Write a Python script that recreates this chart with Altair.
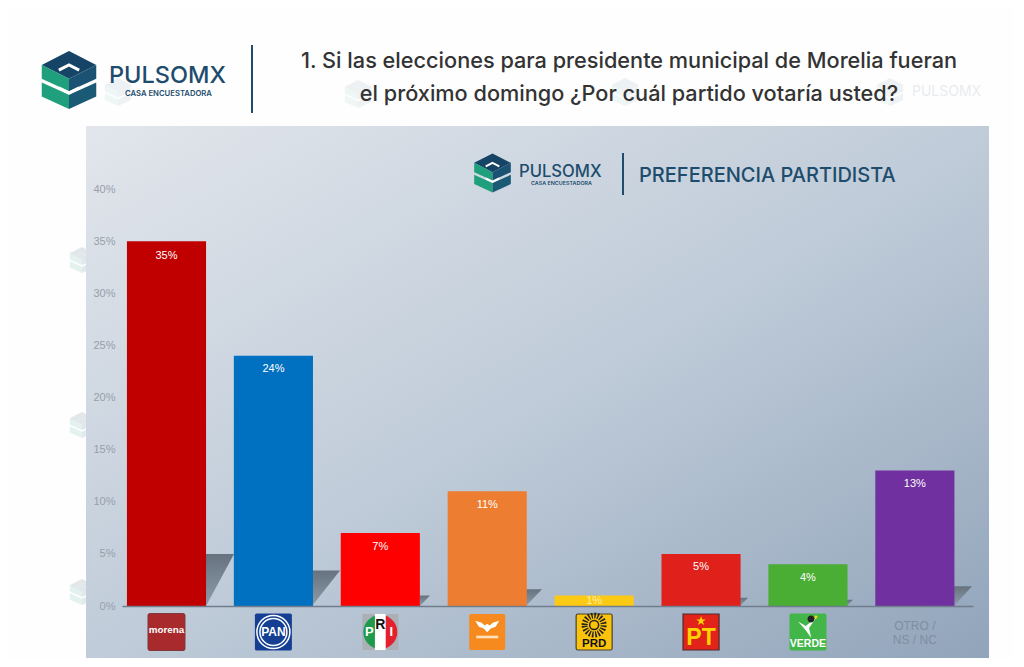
import altair as alt
import pandas as pd

parties = ["morena", "PAN", "PRI", "MC", "PRD", "PT", "VERDE", "OTRO"]
values = [35, 24, 7, 11, 1, 5, 4, 13]
label_pos = [33.6, 22.7, 5.7, 9.7, 0.45, 3.7, 2.7, 11.7]
colors = ["#c00000", "#0070c0", "#ff0000", "#ed7d31", "#fcc914", "#e0201b", "#4aad34", "#7030a0"]
label_colors = ["#ffffff"] * 4 + ["#fdf0a8"] + ["#ffffff"] * 3
y_ticks = [0, 5, 10, 15, 20, 25, 30, 35, 40]

shadow_party = ["morena", "PAN", "PRI", "MC", "PT", "VERDE", "OTRO"]
shadow_start = [206, 312, 420, 526, 740, 847, 954]
shadow_end = [234, 340, 430, 542, 748, 853, 972]
shadow_top = [5.0, 3.4, 1.0, 1.6, 0.8, 0.6, 1.9]

title_lines = ["1. Si las elecciones para presidente municipal de Morelia fueran",
               "el próximo domingo ¿Por cuál partido votaría usted?"]
brand = "PULSOMX"
brand_sub = "CASA ENCUESTADORA"
panel_title = "PREFERENCIA PARTIDISTA"
other_lines = ["OTRO /", "NS / NC"]

PLOT_X, PLOT_Y = 122, 189
NAVY = "#1d4c6c"
ONE = pd.DataFrame({"a": [0]})
px = lambda v: alt.value(v - PLOT_X)
py = lambda v: alt.value(v - PLOT_Y)

xscale = alt.Scale(type="band", domain=parties, paddingInner=0.26, paddingOuter=0.11, align=0.21)
yscale = alt.Scale(domain=[0, 40])
xcat = alt.X("party:N", scale=xscale, axis=None, sort=parties, bandPosition=0.5)


def text(s, x, y, size, color, weight="normal", font="Inter", align="center", opacity=1):
    return alt.Chart(ONE).mark_text(text=s, fontSize=size, color=color, fontWeight=weight, font=font,
                                    align=align, baseline="middle", opacity=opacity).encode(x=px(x), y=py(y))


def shape(path, x, y, w, fill=None, stroke=None, sw=0, opacity=1):
    kw = dict(shape=path, size=w * w, opacity=opacity, filled=fill is not None)
    if fill is not None:
        kw["fill"] = fill
    if stroke is not None:
        kw.update(stroke=stroke, strokeWidth=sw)
    else:
        kw["strokeWidth"] = 0
    return alt.Chart(ONE).mark_point(**kw).encode(x=px(x), y=py(y))


ROOF = "M0,-1L.94,-.52L0,-.04L-.94,-.52Z"
UP_L = "M-.94,-.52L0,-.04L0,.39L-.94,-.04Z"
UP_R = "M.94,-.52L0,-.04L0,.39L.94,-.04Z"
LO_L = "M-.94,.09L0,.51L0,1L-.94,.57Z"
LO_R = "M.94,.09L0,.51L0,1L.94,.57Z"
CH_UP = "M-.35,-.34L0,-.52L.35,-.34"
CH_DN = "M-.35,.27L0,.45L.35,.27"


def logo(cx, cy, w, opacity=1):
    return [
        shape(ROOF, cx, cy, w, fill="#164466", opacity=opacity),
        shape(UP_L, cx, cy, w, fill="#1f9f7c", opacity=opacity),
        shape(UP_R, cx, cy, w, fill="#1b5273", opacity=opacity),
        shape(LO_L, cx, cy, w, fill="#1f9f7c", opacity=opacity),
        shape(LO_R, cx, cy, w, fill="#1a5a75", opacity=opacity),
        shape(CH_UP, cx, cy, w, stroke="#ffffff", sw=w / 20, opacity=opacity),
        shape(CH_DN, cx, cy, w, stroke="#ffffff", sw=w / 20, opacity=opacity),
    ]


panel_fill = alt.Gradient(gradient="linear", x1=0, y1=0, x2=1, y2=1, stops=[
    alt.GradientStop(color="#e2e6ec", offset=0),
    alt.GradientStop(color="#c0ccd9", offset=0.5),
    alt.GradientStop(color="#91a4ba", offset=1),
])
deco = []
# faint watermarks behind the page content
for cx, cy in [(358, 94), (625, 92), (890, 92), (118, 92)]:
    deco += logo(cx, cy, 28, opacity=0.07)
deco.append(text(brand, 912, 92, 14, NAVY, align="left", opacity=0.1))
for cy in [260, 425, 592]:
    deco += logo(82, cy, 26, opacity=0.12)

deco.append(alt.Chart(ONE).mark_rect(color=panel_fill).encode(x=px(86), x2=px(989), y=py(126), y2=py(658)))
deco += logo(69, 80, 58)
deco += [
    text(brand, 109, 76, 23.5, NAVY, weight=500, align="left"),
    text(brand_sub, 125, 94, 7.7, NAVY, weight=600, align="left"),
    alt.Chart(ONE).mark_rule(color=NAVY, strokeWidth=2).encode(x=px(252), y=py(45), y2=py(113)),
    text(title_lines[0], 629, 61, 21.7, "#333333", weight=500),
    text(title_lines[1], 629, 94, 21.7, "#333333", weight=500),
]
deco += logo(492.5, 173, 39)
deco += [
    text(brand, 519, 172, 16.6, NAVY, weight=500, align="left"),
    text(brand_sub, 531, 183, 5.4, NAVY, weight=600, align="left"),
    alt.Chart(ONE).mark_rule(color=NAVY, strokeWidth=2).encode(x=px(623), y=py(153), y2=py(195)),
    text(panel_title, 639, 176, 20, NAVY, weight=500, align="left"),
]

# shadows
rows = []
for p, s, e, t in zip(shadow_party, shadow_start, shadow_end, shadow_top):
    rows.append({"party": p, "px": s, "top": t, "base": 0})
    rows.append({"party": p, "px": e, "top": t, "base": t})
shadow_fill = alt.Gradient(gradient="linear", x1=0, y1=0, x2=0, y2=1, stops=[
    alt.GradientStop(color="#66727e", offset=0),
    alt.GradientStop(color="#8e9cab", offset=1),
])
shadows = alt.Chart(pd.DataFrame(rows)).mark_area(color=shadow_fill).encode(
    x=alt.X("px:Q", scale=alt.Scale(domain=[122, 973]), axis=None),
    y=alt.Y("top:Q", scale=yscale, axis=None),
    y2="base:Q",
    detail="party:N",
)

df = pd.DataFrame({"party": parties, "value": values, "pos": label_pos, "color": colors,
                   "lab": [f"{v}%" for v in values], "labcolor": label_colors})
bars = alt.Chart(df).mark_bar().encode(
    x=alt.X("party:N", scale=xscale, sort=parties,
            axis=alt.Axis(title=None, labels=False, ticks=False, domainColor="#6f7d8c", domainWidth=1.5, zindex=1)),
    y=alt.Y("value:Q", scale=yscale,
            axis=alt.Axis(title=None, values=y_ticks, grid=False, ticks=False, domain=False, zindex=1,
                          labelExpr="datum.value + '%'", labelColor="#97a0ab", labelFontSize=11,
                          labelFont="Liberation Sans", labelPadding=7)),
    color=alt.Color("color:N", scale=None),
)
labels = alt.Chart(df).mark_text(fontSize=11, font="Liberation Sans", baseline="middle").encode(
    x=xcat,
    y=alt.Y("pos:Q", scale=yscale, axis=None),
    text="lab:N",
    color=alt.Color("labcolor:N", scale=None),
)


def gl(party, path, w, fill=None, stroke=None, sw=0, y=632, dx=0, dash=None):
    kw = dict(shape=path, size=w * w, opacity=1, filled=fill is not None, xOffset=dx)
    if fill is not None:
        kw["fill"] = fill
    if stroke is not None:
        kw.update(stroke=stroke, strokeWidth=sw)
    else:
        kw["strokeWidth"] = 0
    if dash is not None:
        kw["strokeDash"] = dash
    return alt.Chart(pd.DataFrame({"party": [party]})).mark_point(**kw).encode(x=xcat, y=py(y))


def lt(party, s, size, color, y=632, dx=0, weight="bold", font="Liberation Sans"):
    return alt.Chart(pd.DataFrame({"party": [party]})).mark_text(
        text=s, fontSize=size, color=color, fontWeight=weight, font=font, baseline="middle", dx=dx
    ).encode(x=xcat, y=py(y))


RS = "M-.9,-1H.9Q1,-1 1,-.9V.9Q1,1 .9,1H-.9Q-1,1 -1,.9V-.9Q-1,-1 -.9,-1Z"
SQ = "M-1,-1H1V1H-1Z"
CIRC = "M-1,0A1,1 0 1 1 1,0A1,1 0 1 1 -1,0Z"
LEFT = "M0,-1A1,1 0 0 0 0,1Z"
RIGHT = "M0,-1A1,1 0 0 1 0,1Z"
BAND = "M-.3,-1H.3V1H-.3Z"
EAGLE = "M-1,-.6L-.5,-.45L-.2,-.2L0,-.35L.2,-.2L.5,-.45L1,-.6L.7,-.1L.3,.05L0,.35L-.3,.05L-.7,-.1Z"
BARLINE = "M-1,-.12H1V.12H-1Z"
STAR = "M0,-1L.24,-.31L.95,-.31L.38,.12L.59,.81L0,.4L-.59,.81L-.38,.12L-.95,-.31L-.24,-.31Z"
VEE = "M-.9,-.5L-.2,-.1L.8,-.9L.1,.1L.3,1L-.2,.3Z"

icons = [
    gl("morena", RS, 37, fill="#a82a2c", stroke="#7d3a3a", sw=1),
    lt("morena", "morena", 9.8, "#ffffff", y=630),
    gl("PAN", RS, 37, fill="#143f92"),
    gl("PAN", CIRC, 33, stroke="#ffffff", sw=1.5, fill="#143f92"),
    gl("PAN", CIRC, 27, stroke="#ffffff", sw=1.5, fill="#143f92"),
    lt("PAN", "PAN", 12, "#ffffff"),
    gl("PRI", SQ, 36, fill="#aab0b6"),
    gl("PRI", LEFT, 34, fill="#1f9a4c"),
    gl("PRI", RIGHT, 34, fill="#e3202c"),
    gl("PRI", BAND, 36, fill="#ffffff"),
    lt("PRI", "P", 13, "#ffffff", dx=-11, y=632),
    lt("PRI", "R", 14, "#111111", y=625),
    lt("PRI", "I", 13, "#ffffff", dx=11, y=632),
    gl("MC", RS, 36, fill="#f68a1e"),
    gl("MC", EAGLE, 24, fill="#ffffff", y=628),
    gl("MC", BARLINE, 22, fill="#fde0bd", y=637),
    gl("PRD", RS, 36, fill="#fcc30b", stroke="#4a4230", sw=1.2),
    gl("PRD", CIRC, 19, stroke="#222222", sw=6, y=625, dash=[1.5, 1.5]),
    gl("PRD", CIRC, 9, fill="#fcc30b", stroke="#222222", sw=1.5, y=625),
    lt("PRD", "PRD", 11.5, "#111111", y=644),
    gl("PT", SQ, 36, fill="#e2231a", stroke="#4c2a2a", sw=1.2),
    gl("PT", STAR, 10, fill="#ffd200", y=621),
    lt("PT", "PT", 23, "#ffd200", y=638),
    gl("VERDE", RS, 37, fill="#43b649"),
    gl("VERDE", VEE, 22, fill="#ffffff", y=627),
    gl("VERDE", CIRC, 7, fill="#222222", y=619, dx=3),
    gl("VERDE", CIRC, 3, fill="#ffd200", y=617, dx=8),
    lt("VERDE", "VERDE", 10.5, "#ffffff", y=644),
    lt("OTRO", other_lines[0], 12, "#7f8ea1", y=626, weight="normal"),
    lt("OTRO", other_lines[1], 12, "#7f8ea1", y=640, weight="normal"),
]

chart = alt.layer(*deco, shadows, bars, labels, *icons).resolve_scale(x="independent").resolve_axis(y="independent").properties(
    width=851, height=417,
    autosize=alt.AutoSizeParams(type="none"),
    padding={"left": 114, "top": 181, "right": 40, "bottom": 52},
    background="#fefefe",
).configure_view(stroke=None)

chart.save("out.html", embed_options={"renderer": "svg", "actions": False})
